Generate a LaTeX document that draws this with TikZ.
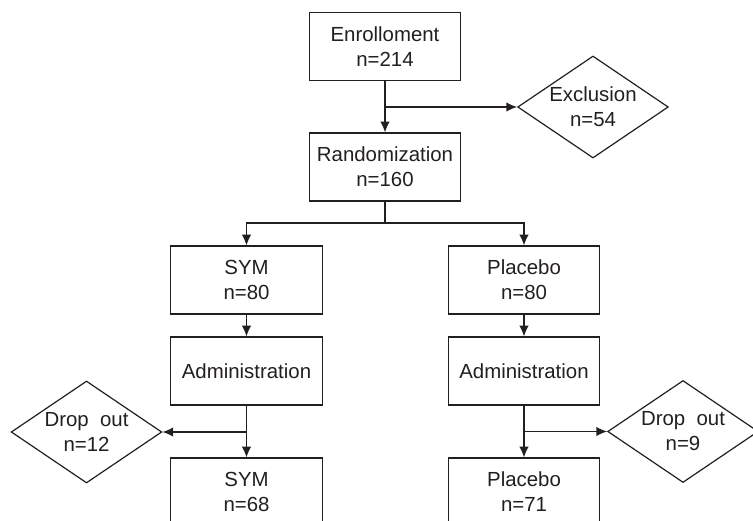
\documentclass[tikz,border=0pt]{standalone}
\usepackage{fontspec}
\setmainfont{Liberation Sans}
\usetikzlibrary{shapes.geometric,arrows.meta}
\definecolor{ink}{HTML}{231F20}
\tikzset{
  box/.style={draw=ink, line width=0.9pt, rectangle, inner sep=0pt, align=center,
    minimum width=113.5pt, minimum height=51pt, text=ink,
    font=\fontsize{15.3pt}{18.75pt}\selectfont},
  dia/.style={draw=ink, line width=0.9pt, diamond, inner sep=0pt, align=center,
    shape aspect=1.5, minimum width=113pt, minimum height=76.5pt, text=ink,
    font=\fontsize{15.3pt}{18.75pt}\selectfont},
  arr/.style={draw=ink, line width=0.9pt, -{Latex[length=8pt,width=7pt]}},
  ln/.style={draw=ink, line width=0.9pt}
}
\begin{document}
\begin{tikzpicture}[x=0.75pt,y=-0.75pt]
\clip (0,0) rectangle (753,521);
\fill[white] (0,0) rectangle (753,521);
\node[box] (enr) at (385,46.5) {Enrolloment\\n=214};
\node[box] (rand) at (385,167) {Randomization\\n=160};
\node[dia] (excl) at (593,107) {Exclusion\\n=54};
\node[box] (sym) at (246.5,280) {SYM\\n=80};
\node[box] (plac) at (524,280) {Placebo\\n=80};
\node[box] (adm1) at (246.5,371) {Administration};
\node[box] (adm2) at (524,371) {Administration};
\node[dia] (drop1) at (86.5,432) {Drop\ \ out\\n=12};
\node[dia] (drop2) at (683,431.5) {Drop\ \ out\\n=9};
\node[box] (sym2) at (246.5,492) {SYM\\n=68};
\node[box] (plac2) at (524,492) {Placebo\\n=71};
\coordinate (split) at (385,223);
\draw[arr] (enr.south) -- (rand.north);
\draw[arr] (enr.south |- excl.west) -- (excl.west);
\draw[ln] (rand.south) -- (split);
\draw[arr] (split) -| (sym.north);
\draw[arr] (split) -| (plac.north);
\draw[arr] (sym.south) -- (adm1.north);
\draw[arr] (plac.south) -- (adm2.north);
\draw[arr] (adm1.south) -- (sym2.north);
\draw[arr] (adm1.south |- drop1.east) -- (drop1.east);
\draw[arr] (adm2.south) -- (plac2.north);
\draw[arr] (adm2.south |- drop2.west) -- (drop2.west);
\end{tikzpicture}
\end{document}
